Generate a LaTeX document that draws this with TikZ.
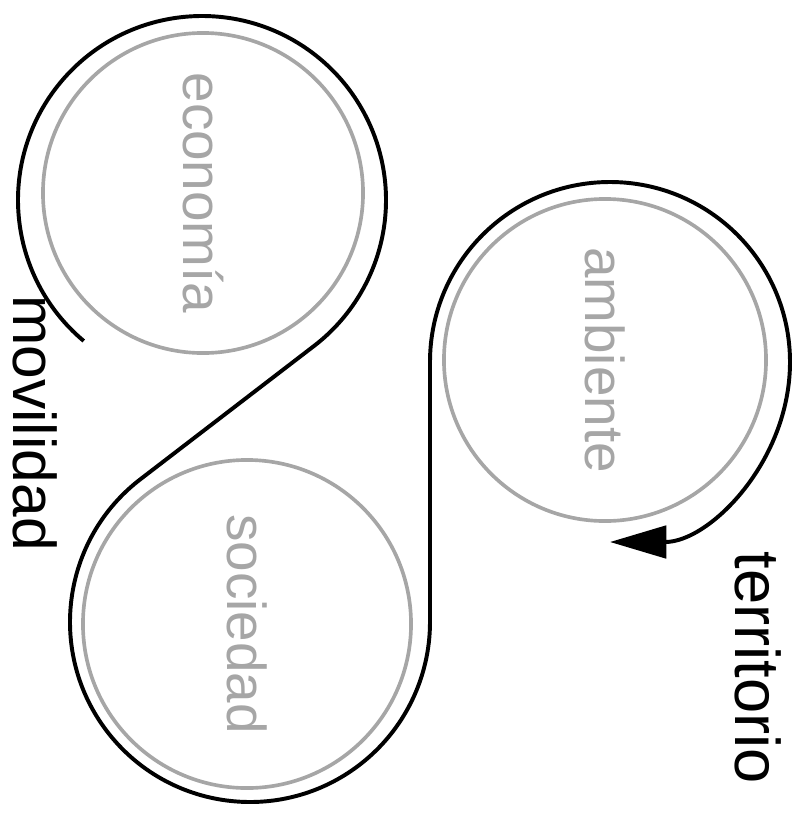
\documentclass[tikz,border=0pt]{standalone}
\usepackage{fontspec}
\setmainfont{Liberation Sans}
\usetikzlibrary{arrows.meta, calc}

\begin{document}
\begin{tikzpicture}[
    x=0.025cm, y=0.025cm,
    ring/.style={circle, draw=black!35, line width=2.6pt, minimum size=#1, inner sep=0pt,
                 text=black!35, font=\fontsize{39}{44}\selectfont, rotate=-90},
    word/.style={font=\fontsize{43}{48}\selectfont, rotate=-90},
    loop/.style={line width=2.8pt, -{Triangle[length=40pt, width=23pt]}}
]
    \useasboundingbox (0,0) rectangle (795,-817);

    % Círculos interiores
    \node[ring=8cm]  (economia) at (203,-193) {economía};
    \node[ring=8.2cm] (sociedad) at (247,-624) {sociedad};
    \node[ring=8.05cm] (ambiente) at (605,-360) {ambiente};

    % Etiquetas exteriores
    \node[word] (movilidad) at (35,-423) {movilidad};
    \node[word, font=\fontsize{45}{50}\selectfont] (territorio) at (758,-668) {territorio};

    % Trazo continuo
    \coordinate (inicio) at ($(202,-200)+(230:184)$);
    \coordinate (cruce) at ($(250,-622)+(127.5:180)$);
    \coordinate (subida) at (430,-362);
    \draw[loop] (inicio)
        arc[start angle=230, end angle=-52.5, radius=184]
        -- (cruce)
        arc[start angle=127.5, end angle=360, radius=180]
        -- (subida)
        arc[start angle=180, end angle=-90, radius=180];
\end{tikzpicture}
\end{document}
